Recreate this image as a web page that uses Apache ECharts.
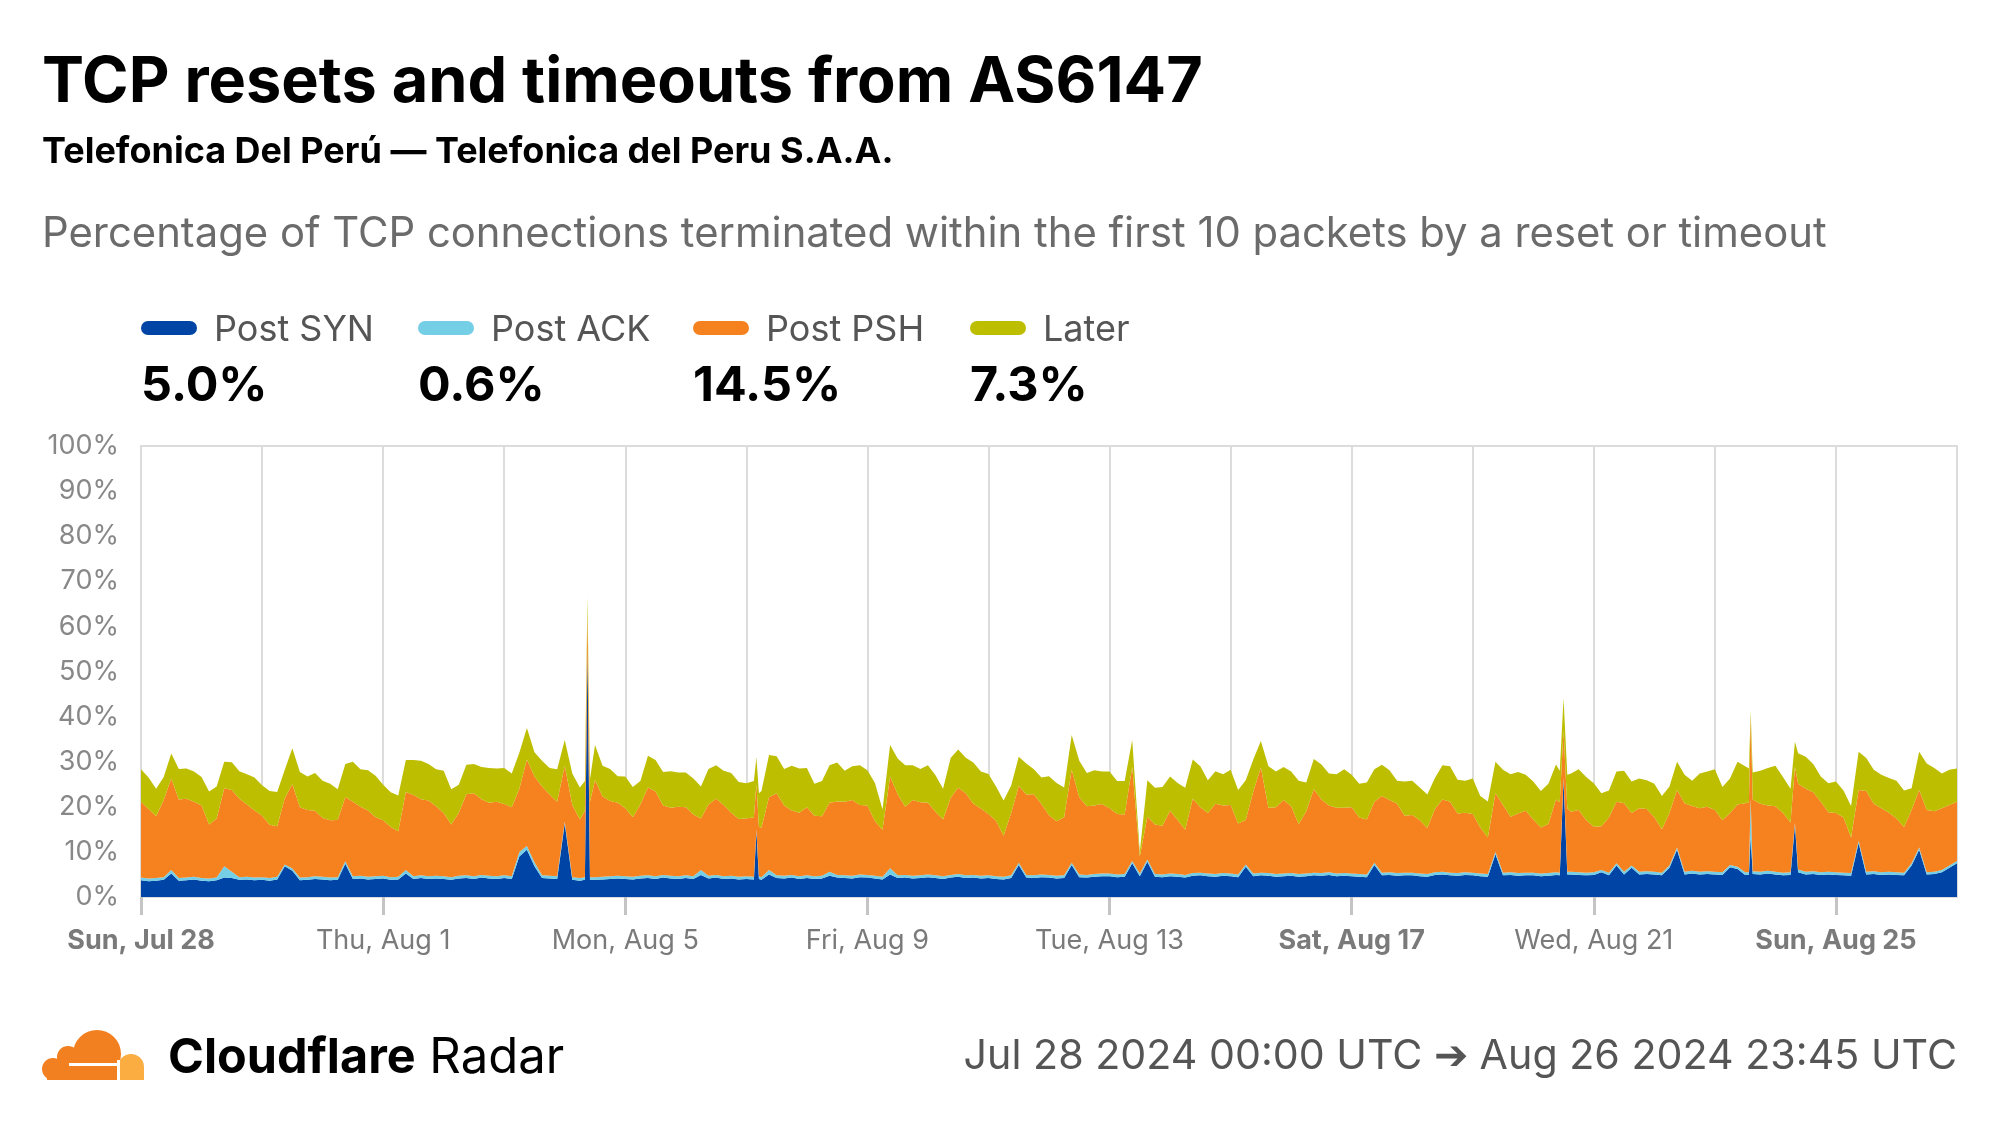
<!DOCTYPE html>
<html><head><meta charset="utf-8">
<script src="https://cdn.jsdelivr.net/npm/echarts@6/dist/echarts.min.js"></script>
<style>html,body{margin:0;padding:0;background:#fff}#c{width:1999px;height:1125px}</style>
</head><body><div id="c"></div>
<script>
// ---- data (percent of TCP connections), sampled every 3 hours from Jul 28 2024 00:00 UTC ----
const START_UTC = Date.UTC(2024, 6, 28);
const STEP_H = 3;
const seriesNames = ['Post SYN', 'Post ACK', 'Post PSH', 'Later'];
const summaryValues = ['5.0%', '0.6%', '14.5%', '7.3%'];
const xLabelHours = [0, 96, 192, 288, 384, 480, 576, 672];

const synBase = [
3.7,3.5,3.6,3.8,5.2,3.6,3.7,3.9,
3.6,3.5,3.7,4.3,4.2,3.8,3.9,3.7,
3.8,3.6,3.9,6.8,5.8,3.7,3.8,4.0,
3.9,3.7,3.8,7.4,4.0,4.1,3.9,4.0,
4.1,3.8,3.9,5.2,4.0,4.2,4.0,4.1,
4.0,3.8,4.1,4.2,4.0,4.3,4.1,4.0,
4.2,4.0,9.0,10.5,6.8,4.2,4.1,4.0,
16.3,3.8,3.6,55.0,3.8,3.9,4.0,4.1,
4.0,3.9,4.1,4.2,4.0,4.3,4.1,4.0,
4.2,4.0,4.9,4.1,4.3,4.0,4.1,3.9,
4.0,3.9,3.8,5.0,4.2,4.1,4.3,4.0,
4.2,4.0,4.1,4.7,4.3,4.2,4.1,4.4,
4.3,4.1,3.9,5.0,4.2,4.3,4.1,4.2,
4.4,4.2,4.0,4.3,4.5,4.2,4.3,4.1,
4.2,4.0,3.9,4.2,7.1,4.3,4.2,4.4,
4.3,4.1,4.2,7.1,4.4,4.3,4.5,4.6,
4.6,4.4,4.5,7.5,4.6,7.8,4.5,4.4,
4.6,4.5,4.3,4.7,4.8,4.6,4.5,4.7,
4.6,4.4,6.7,4.6,4.8,4.7,4.5,4.6,
4.7,4.5,4.6,4.8,4.7,4.9,4.6,4.7,
4.6,4.5,4.4,7.1,4.8,4.9,4.7,4.8,
4.8,4.6,4.5,4.9,5.0,4.8,4.7,4.9,
4.8,4.6,4.5,9.5,4.8,4.9,4.7,4.8,
4.8,4.6,4.7,4.9,26.0,5.0,4.9,4.8,
4.9,5.5,4.8,7.0,5.0,6.5,5.0,5.1,
5.0,4.8,6.5,10.5,5.0,5.2,5.0,5.1,
5.0,4.9,6.6,6.2,4.9,5.1,5.0,5.2,
5.0,4.8,4.9,5.5,5.0,5.1,4.9,5.0,
4.9,4.8,4.7,12.0,5.0,5.1,4.9,5.0,
4.9,4.8,7.0,10.5,5.0,5.1,5.5,6.5,
7.5];

const ackBase = [
0.6,0.6,0.6,0.6,0.8,0.6,0.6,0.6,
0.6,0.6,0.6,2.5,1.4,0.6,0.6,0.6,
0.6,0.6,0.6,0.4,0.5,0.6,0.6,0.6,
0.6,0.6,0.6,0.5,0.6,0.6,0.6,0.6,
0.6,0.6,0.6,0.8,0.6,0.6,0.6,0.6,
0.6,0.6,0.6,0.6,0.6,0.6,0.6,0.6,
0.6,0.6,1.0,0.8,0.9,0.6,0.6,0.6,
0.4,0.6,0.6,0.5,0.6,0.6,0.6,0.6,
0.6,0.6,0.6,0.6,0.6,0.6,0.6,0.6,
0.6,0.6,1.1,0.6,0.6,0.6,0.6,0.6,
0.6,0.6,0.6,1.0,0.6,0.6,0.6,0.6,
0.6,0.6,0.6,0.9,0.6,0.6,0.6,0.6,
0.6,0.6,0.6,1.4,0.6,0.6,0.6,0.6,
0.6,0.6,0.6,0.6,0.6,0.6,0.6,0.6,
0.6,0.6,0.6,0.6,0.5,0.6,0.6,0.6,
0.6,0.6,0.6,0.5,0.6,0.6,0.6,0.6,
0.6,0.6,0.6,0.5,0.6,0.5,0.6,0.6,
0.6,0.6,0.6,0.6,0.6,0.6,0.6,0.6,
0.6,0.6,0.5,0.6,0.6,0.6,0.6,0.6,
0.6,0.6,0.6,0.6,0.6,0.6,0.6,0.6,
0.6,0.6,0.6,0.5,0.6,0.6,0.6,0.6,
0.6,0.6,0.6,0.6,0.6,0.6,0.6,0.6,
0.6,0.6,0.6,0.5,0.6,0.6,0.6,0.6,
0.6,0.6,0.6,0.6,0.5,0.6,0.6,0.6,
0.6,0.5,0.6,0.5,0.6,0.5,0.6,0.6,
0.6,0.6,0.5,0.5,0.6,0.6,0.6,0.6,
0.6,0.6,0.5,0.5,0.6,0.6,0.6,0.6,
0.6,0.6,0.6,0.6,0.6,0.6,0.6,0.6,
0.6,0.6,0.6,0.5,0.6,0.6,0.6,0.6,
0.6,0.6,0.5,0.5,0.5,0.5,0.5,0.5,
0.5];

const pshBase = [
16.8,15.4,13.7,17.1,20.3,17.4,17.5,16.6,
16.1,12.0,13.1,17.3,18.1,17.4,16.0,14.9,
13.6,11.8,11.2,14.7,18.7,15.6,14.9,14.5,
13.0,12.7,12.7,14.3,16.5,15.3,14.7,13.1,
12.3,11.1,10.1,17.3,18.0,16.9,16.8,15.4,
14.0,11.7,14.0,18.0,18.4,16.8,16.2,16.5,
15.8,15.3,14.0,19.2,19.0,19.7,18.0,16.5,
12.4,16.0,13.0,7.5,21.5,17.8,16.7,16.2,
15.1,13.2,15.8,19.5,18.8,15.4,15.1,15.4,
15.1,13.7,11.4,15.8,16.9,15.8,14.0,12.8,
12.8,13.2,11.0,16.1,18.2,15.6,14.3,14.1,
15.1,13.4,13.2,15.3,16.3,16.3,16.8,15.4,
15.4,12.1,10.4,20.3,18.0,15.1,16.8,16.2,
15.9,14.1,12.6,17.1,19.1,18.2,15.8,14.9,
13.6,12.3,9.1,13.8,17.0,17.8,18.0,15.6,
13.2,12.1,12.9,20.6,17.1,15.2,15.2,15.4,
14.5,13.4,13.2,20.9,3.8,9.5,11.0,10.8,
13.9,12.0,10.0,16.5,14.5,13.4,15.6,15.0,
15.2,11.3,9.9,18.2,23.3,14.5,14.8,16.3,
14.8,11.1,13.8,18.5,16.3,14.8,14.6,14.5,
14.7,12.5,12.2,13.5,17.0,16.0,15.4,12.6,
12.8,11.8,10.2,14.0,16.0,15.7,13.2,13.2,
13.0,10.2,8.1,13.0,15.0,12.3,13.2,13.7,
11.8,10.2,10.9,16.1,10.5,13.3,13.8,11.6,
10.1,9.7,12.2,13.6,15.2,11.6,14.1,13.8,
12.1,9.6,11.6,12.7,15.2,14.4,14.1,14.3,
13.7,11.5,11.5,13.8,15.3,15.9,15.1,14.5,
14.5,13.2,11.0,19.0,18.4,17.5,15.6,13.2,
13.1,12.2,7.9,11.2,17.9,15.0,14.2,13.1,
11.9,10.1,11.8,12.7,13.8,13.4,13.7,13.4,
13.1];

const laterBase = [
7.2,7.0,6.1,5.1,5.5,6.8,6.7,6.7,
6.3,7.3,7.1,5.9,6.2,6.1,6.7,7.3,
6.8,7.5,7.6,6.3,8.0,7.8,7.4,8.4,
8.3,8.1,6.8,7.3,8.9,8.3,8.9,9.2,
7.9,7.7,7.9,7.1,7.8,8.5,8.1,8.2,
9.4,7.8,6.2,6.5,6.5,7.1,7.7,7.4,
8.0,7.5,8.0,7.0,5.4,5.7,5.9,7.2,
5.7,7.0,7.1,3.5,7.8,6.8,7.1,5.9,
7.0,6.7,5.2,7.0,7.0,7.4,8.1,7.6,
7.7,8.0,7.1,7.9,7.4,7.6,8.8,8.2,
7.8,8.0,8.1,9.4,8.2,8.1,9.9,9.8,
8.7,7.1,7.8,8.3,8.6,6.9,7.5,8.8,
7.8,8.5,4.5,7.0,7.9,9.2,7.7,7.4,
8.3,8.1,6.8,8.8,8.5,7.9,9.1,8.2,
8.9,7.6,7.8,6.1,6.5,6.9,5.5,5.9,
8.7,8.5,6.6,7.7,8.1,7.4,7.8,7.2,
8.1,7.3,7.4,5.9,1.0,8.1,8.1,8.6,
7.6,8.2,9.3,8.7,9.1,7.3,7.2,6.9,
7.8,7.4,8.8,7.1,5.9,9.2,7.9,7.3,
7.7,9.6,6.4,6.7,7.8,7.1,7.4,8.5,
7.2,7.5,8.2,7.2,6.9,6.6,5.1,7.6,
7.6,7.3,7.4,6.9,7.6,7.9,7.5,7.1,
7.9,7.0,8.0,7.0,7.8,9.4,9.2,8.0,
8.4,8.1,8.9,7.8,7.0,8.5,9.0,9.6,
9.6,7.3,6.0,6.7,7.2,7.0,6.6,6.4,
7.4,7.4,5.9,6.3,6.3,5.6,7.7,7.8,
9.0,7.4,7.7,9.5,8.2,6.0,7.3,8.3,
9.0,8.0,7.5,6.8,7.1,6.3,5.6,6.4,
7.0,6.0,7.0,8.5,7.3,7.5,7.4,7.7,
8.4,8.1,4.8,8.5,10.3,9.6,7.7,7.8,
7.4];

// short-lived spikes read between the 3-hour samples (hour offset from start)
const spikeHours = [176, 178, 244, 245, 562.5, 565.5, 637.5, 638.2, 655.75];
const spikeSyn   = [3.8, 3.8, 14.5, 4.0, 4.8, 5.0, 4.9, 13.4, 16.0];
const spikeAck   = [0.6, 0.6, 0.5, 0.6, 0.6, 0.6, 0.6, 8.5, 0.5];
const spikePsh   = [14.7, 16.7, 10.0, 10.9, 15.6, 14.0, 15.5, 18.1, 12.4];
const spikeLater = [6.6, 5.0, 6.0, 7.5, 7.0, 7.5, 7.5, 1.2, 5.5];

const colors = ['#0045A6', '#74CFE6', '#F5821F', '#BDBE00'];

// ---- build table ----
const HOUR = 3600000;
const rows = [];
for (let k = 0; k < synBase.length; k++) rows.push([k * STEP_H, synBase[k], ackBase[k], pshBase[k], laterBase[k]]);
for (let i = 0; i < spikeHours.length; i++) rows.push([spikeHours[i], spikeSyn[i], spikeAck[i], spikePsh[i], spikeLater[i]]);
rows.sort((a, b) => a[0] - b[0]);

const FONT = 'Inter, "Noto Sans", sans-serif';
const DAYS = ['Sun','Mon','Tue','Wed','Thu','Fri','Sat'];
const MONTHS = ['Jan','Feb','Mar','Apr','May','Jun','Jul','Aug','Sep','Oct','Nov','Dec'];

const chart = echarts.init(document.getElementById('c'), null, {renderer: 'canvas'});

// series sit on a hidden time axis (index 2); axis 0 draws labels/ticks, axis 1 the 2-day grid lines
const series = seriesNames.map((name, i) => ({
  name, type: 'line', stack: 'total', xAxisIndex: 2, yAxisIndex: 0,
  symbol: 'none', showSymbol: false, smooth: false,
  lineStyle: {width: 0}, areaStyle: {color: colors[i], opacity: 1},
  itemStyle: {color: colors[i]}, emphasis: {disabled: true},
  data: rows.map(r => [START_UTC + r[0] * HOUR, r[i + 1]])
}));

const legendX = [141, 418, 693, 970];
const graphics = [
  {type: 'text', left: 42, top: 52, style: {text: 'TCP resets and timeouts from AS6147', font: 'bold 63px ' + FONT, fill: '#000'}},
  {type: 'text', left: 42, top: 134, style: {text: 'Telefonica Del Perú — Telefonica del Peru S.A.A.', font: 'bold 36px ' + FONT, fill: '#000'}},
  {type: 'text', left: 42, top: 213, style: {text: 'Percentage of TCP connections terminated within the first 10 packets by a reset or timeout', font: '41.8px ' + FONT, fill: '#6b6b6b'}},
  {type: 'text', right: 42, top: 1036, style: {text: 'Jul 28 2024 00:00 UTC ➔ Aug 26 2024 23:45 UTC', font: '41.2px ' + FONT, fill: '#555'}},
  {type: 'text', left: 168, top: 1034, style: {text: '{b|Cloudflare}{r| Radar}', rich: {b: {font: 'bold 48.5px ' + FONT, fill: '#000'}, r: {font: '49px ' + FONT, fill: '#000'}}}},
  {type: 'group', left: 42, top: 1030, children: [
    {type: 'circle', shape: {cx: 12, cy: 39, r: 11}, style: {fill: '#F38020'}},
    {type: 'circle', shape: {cx: 27, cy: 27, r: 11}, style: {fill: '#F38020'}},
    {type: 'circle', shape: {cx: 56, cy: 24, r: 24}, style: {fill: '#F38020'}},
    {type: 'rect', shape: {x: 6, y: 36, width: 72, height: 14}, style: {fill: '#F38020'}},
    {type: 'circle', shape: {cx: 90, cy: 37, r: 13}, style: {fill: '#FBAD41'}},
    {type: 'rect', shape: {x: 77, y: 37, width: 26, height: 13}, style: {fill: '#FBAD41'}},
    {type: 'rect', shape: {x: 28, y: 33, width: 50, height: 3}, style: {fill: '#fff'}},
    {type: 'rect', shape: {x: 76, y: 30, width: 3, height: 20}, style: {fill: '#fff'}}
  ]}
];
seriesNames.forEach((name, i) => {
  graphics.push({type: 'rect', left: legendX[i], top: 321, shape: {width: 56, height: 14, r: 7}, style: {fill: colors[i]}});
  graphics.push({type: 'text', left: legendX[i] + 73, top: 312, style: {text: name, font: '36px ' + FONT, fill: '#555'}});
  graphics.push({type: 'text', left: legendX[i], top: 362, style: {text: summaryValues[i], font: 'bold 48.5px ' + FONT, fill: '#000'}});
});

chart.setOption({
  animation: false,
  backgroundColor: '#fff',
  textStyle: {fontFamily: FONT},
  grid: {left: 141, right: 42, top: 446, bottom: 228, show: true, borderColor: '#dcdcdc', borderWidth: 2, backgroundColor: 'transparent'},
  xAxis: [
    {type: 'value', min: 0, max: 720, position: 'bottom',
     axisLine: {show: true, lineStyle: {color: '#dcdcdc', width: 2}},
     axisTick: {show: true, customValues: xLabelHours, length: 18, lineStyle: {color: '#c4c4c4', width: 3}},
     splitLine: {show: false},
     axisLabel: {customValues: xLabelHours, margin: 30, fontSize: 27, color: '#7a7a7a', fontFamily: FONT,
       formatter: v => {
         const d = new Date(START_UTC + v * HOUR);
         const wd = d.getUTCDay();
         const s = DAYS[wd] + ', ' + MONTHS[d.getUTCMonth()] + ' ' + d.getUTCDate();
         return (wd === 0 || wd === 6) ? '{b|' + s + '}' : s;
       },
       rich: {b: {fontWeight: 'bold', fontSize: 27, color: '#7a7a7a', fontFamily: FONT}}}},
    {type: 'value', min: 0, max: 720, interval: 48, position: 'bottom',
     axisLine: {show: false}, axisTick: {show: false}, axisLabel: {show: false},
     splitLine: {show: true, lineStyle: {color: '#dcdcdc', width: 2}}},
    {type: 'time', min: START_UTC, max: START_UTC + 720 * HOUR, show: false, position: 'bottom',
     axisLine: {show: false}, axisTick: {show: false}, axisLabel: {show: false}, splitLine: {show: false}}
  ],
  yAxis: {type: 'value', min: 0, max: 100, interval: 10,
    axisLine: {show: false}, axisTick: {show: false}, splitLine: {show: false},
    axisLabel: {formatter: '{value}%', fontSize: 27, color: '#888', margin: 22, fontFamily: FONT}},
  graphic: graphics,
  series
});
</script></body></html>
